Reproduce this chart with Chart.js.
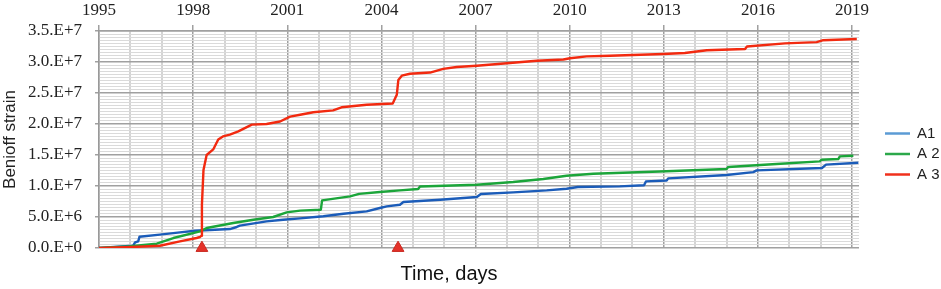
<!DOCTYPE html>
<html>
<head>
<meta charset="utf-8">
<script src="https://cdn.jsdelivr.net/npm/chart.js@4.4.1/dist/chart.umd.min.js"></script>
<style>
  html, body { margin: 0; padding: 0; background: #fff; }
  canvas { display: block; }
</style>
</head>
<body>
<canvas id="chart" width="941" height="289"></canvas>
<script>
// cumulative Benioff strain (x = decimal year)
const a1Years  = [1995, 1996.09, 1996.15, 1996.25, 1996.29, 1996.94, 1997.58, 1998.06, 1999.17, 1999.39, 1999.49, 2000.34, 2000.87, 2001.41, 2002.15, 2002.79, 2003.53, 2003.95, 2004.17, 2004.59, 2004.70, 2005.87, 2007.04, 2007.17, 2008.2, 2009.27, 2009.90, 2010.26, 2011.6, 2012.37, 2012.43, 2013.09, 2013.14, 2015.0, 2015.85, 2015.96, 2018.04, 2018.17, 2019.2];
const a1Strain = [0, 0.37e6, 0.9e6, 1.06e6, 1.82e6, 2.15e6, 2.52e6, 2.79e6, 3.06e6, 3.39e6, 3.6e6, 4.29e6, 4.56e6, 4.77e6, 5.13e6, 5.53e6, 5.9e6, 6.45e6, 6.71e6, 6.98e6, 7.42e6, 7.79e6, 8.23e6, 8.71e6, 8.97e6, 9.29e6, 9.56e6, 9.84e6, 9.94e6, 10.13e6, 10.74e6, 10.89e6, 11.23e6, 11.77e6, 12.23e6, 12.52e6, 12.9e6, 13.44e6, 13.76e6];

const a2Years  = [1995, 1995.93, 1996.84, 1997.37, 1998.22, 1998.43, 1999.28, 1999.92, 2000.55, 2000.98, 2001.41, 2002.07, 2002.11, 2003.0, 2003.29, 2003.95, 2004.59, 2005.17, 2005.23, 2007.04, 2008.2, 2009.16, 2009.9, 2010.75, 2012.87, 2015.0, 2015.05, 2016.59, 2017.97, 2018.03, 2018.56, 2018.61, 2019.04];
const a2Strain = [0, 0.26e6, 0.69e6, 1.61e6, 2.68e6, 3.23e6, 4.03e6, 4.56e6, 5.0e6, 5.74e6, 6.02e6, 6.18e6, 7.68e6, 8.32e6, 8.73e6, 9.03e6, 9.29e6, 9.52e6, 9.92e6, 10.21e6, 10.65e6, 11.13e6, 11.66e6, 11.98e6, 12.35e6, 12.74e6, 13.06e6, 13.55e6, 13.97e6, 14.24e6, 14.35e6, 14.77e6, 14.89e6];

const a3Years  = [1995, 1996.08, 1996.94, 1997.58, 1998.11, 1998.22, 1998.26, 1998.28, 1998.33, 1998.43, 1998.64, 1998.80, 1998.95, 1999.17, 1999.44, 1999.87, 2000.34, 2000.77, 2001.09, 2001.41, 2001.83, 2002.46, 2002.73, 2003.53, 2004.36, 2004.49, 2004.54, 2004.65, 2004.91, 2005.55, 2005.97, 2006.40, 2007.04, 2008.0, 2008.95, 2009.80, 2010.01, 2010.54, 2011.28, 2012.98, 2013.67, 2014.37, 2015.59, 2015.65, 2016.86, 2017.87, 2018.06, 2019.15];
const a3Strain = [0, 0.16e6, 0.37e6, 1.06e6, 1.61e6, 1.77e6, 1.98e6, 7.0e6, 12.6e6, 15.0e6, 15.9e6, 17.5e6, 18.0e6, 18.3e6, 18.8e6, 19.9e6, 20.0e6, 20.4e6, 21.2e6, 21.5e6, 21.9e6, 22.2e6, 22.7e6, 23.1e6, 23.3e6, 24.7e6, 27.1e6, 27.8e6, 28.1e6, 28.3e6, 28.9e6, 29.2e6, 29.4e6, 29.8e6, 30.2e6, 30.4e6, 30.6e6, 30.9e6, 31.0e6, 31.3e6, 31.45e6, 31.9e6, 32.1e6, 32.5e6, 33.0e6, 33.2e6, 33.5e6, 33.7e6];

// red triangles on the time axis (large events)
const eventYears  = [1998.28, 2004.53];
const eventStrain = [0, 0];

const seriesNames   = ["A1", "A 2", "A 3"];
const lineColors    = ["#1b5cb9", "#1ba53a", "#f22a10"];
const legendColors  = ["#5b9bd5", "#2ca84a", "#f0301c"];

const toPoints = (xs, ys) => xs.map((x, i) => ({ x: x, y: ys[i] }));

const serif = '"Liberation Serif", "Times New Roman", serif';
const sans = '"Liberation Sans", Arial, sans-serif';

const lineSet = (i, xs, ys, order) => ({
  type: "line",
  label: seriesNames[i],
  data: toPoints(xs, ys),
  borderColor: lineColors[i],
  backgroundColor: lineColors[i],
  borderWidth: 2.4,
  pointRadius: 0,
  tension: 0,
  borderJoinStyle: "round",
  order: order,
});

const sideLegend = {
  id: "sideLegend",
  afterDraw(chart) {
    const ctx = chart.ctx;
    ctx.save();
    ctx.font = "15px " + sans;
    ctx.textBaseline = "middle";
    ctx.textAlign = "left";
    seriesNames.forEach((name, i) => {
      const y = 133.5 + i * 20.5;
      ctx.strokeStyle = legendColors[i];
      ctx.lineWidth = 2.5;
      ctx.beginPath();
      ctx.moveTo(885, y);
      ctx.lineTo(910, y);
      ctx.stroke();
      ctx.fillStyle = "#222";
      ctx.fillText(name, 917, y);
    });
    ctx.font = "20px " + sans;
    ctx.textAlign = "center";
    ctx.fillStyle = "#111";
    ctx.fillText("Time, days", 449, 274);
    ctx.restore();
  },
};

const sciLabel = (v) => {
  if (v === 0) return "0.0.E+0";
  const e = Math.floor(Math.log10(v));
  return (v / Math.pow(10, e)).toFixed(1) + ".E+" + e;
};

new Chart(document.getElementById("chart"), {
  type: "scatter",
  data: {
    datasets: [
      lineSet(0, a1Years, a1Strain, 3),
      lineSet(1, a2Years, a2Strain, 2),
      lineSet(2, a3Years, a3Strain, 1),
      {
        type: "scatter",
        label: "events",
        data: toPoints(eventYears, eventStrain),
        pointStyle: "triangle",
        pointRadius: 6.8,
        backgroundColor: "#e4322a",
        borderColor: "#c9281f",
        borderWidth: 1,
        clip: false,
        order: 0,
      },
    ],
  },
  options: {
    responsive: false,
    devicePixelRatio: 1,
    animation: false,
    layout: { padding: { top: 0, left: 0, right: 82, bottom: 41 } },
    plugins: {
      legend: { display: false },
      tooltip: { enabled: false },
    },
    scales: {
      x: {
        type: "linear",
        position: "top",
        min: 1995,
        max: 2019.22,
        afterFit: (scale) => { scale.height = 31; },
        border: { color: "#a0a0a0", width: 1.5 },
        grid: {
          color: (c) => (c.tick && c.tick.value % 3 === 0 ? "#a0a0a0" : "#d4d4d4"),
          lineWidth: (c) => (c.tick && c.tick.value % 3 === 0 ? 1.5 : 2),
          tickColor: (c) => (c.tick && c.tick.value % 3 === 0 ? "#a0a0a0" : "rgba(0,0,0,0)"),
          tickLength: 6,
        },
        ticks: {
          stepSize: 1,
          includeBounds: false,
          autoSkip: false,
          maxRotation: 0,
          padding: 4,
          color: "#222",
          font: { family: serif, size: 17 },
          callback: (v) => (v % 3 === 0 ? String(v) : ""),
        },
      },
      y: {
        min: 0,
        max: 3.5e7,
        afterFit: (scale) => { scale.width = 99; },
        border: { color: "#999", width: 1.5 },
        title: {
          display: true,
          text: "Benioff strain",
          color: "#222",
          font: { family: sans, size: 17 },
          padding: { top: 0, bottom: 0 },
        },
        grid: {
          color: (c) => (c.tick && Math.abs(c.tick.value % 5e6) < 1 ? "#a0a0a0" : "#dadada"),
          lineWidth: (c) => (c.tick && Math.abs(c.tick.value % 5e6) < 1 ? 1.5 : 1),
          tickColor: (c) => (c.tick && Math.abs(c.tick.value % 5e6) < 1 ? "#a0a0a0" : "rgba(0,0,0,0)"),
          tickLength: 4,
        },
        ticks: {
          stepSize: 5e5,
          autoSkip: false,
          padding: 13,
          color: "#222",
          font: { family: serif, size: 17 },
          callback: (v) => (Math.abs(v % 5e6) < 1 ? sciLabel(v) : ""),
        },
      },
    },
  },
  plugins: [sideLegend],
});
</script>
</body>
</html>
